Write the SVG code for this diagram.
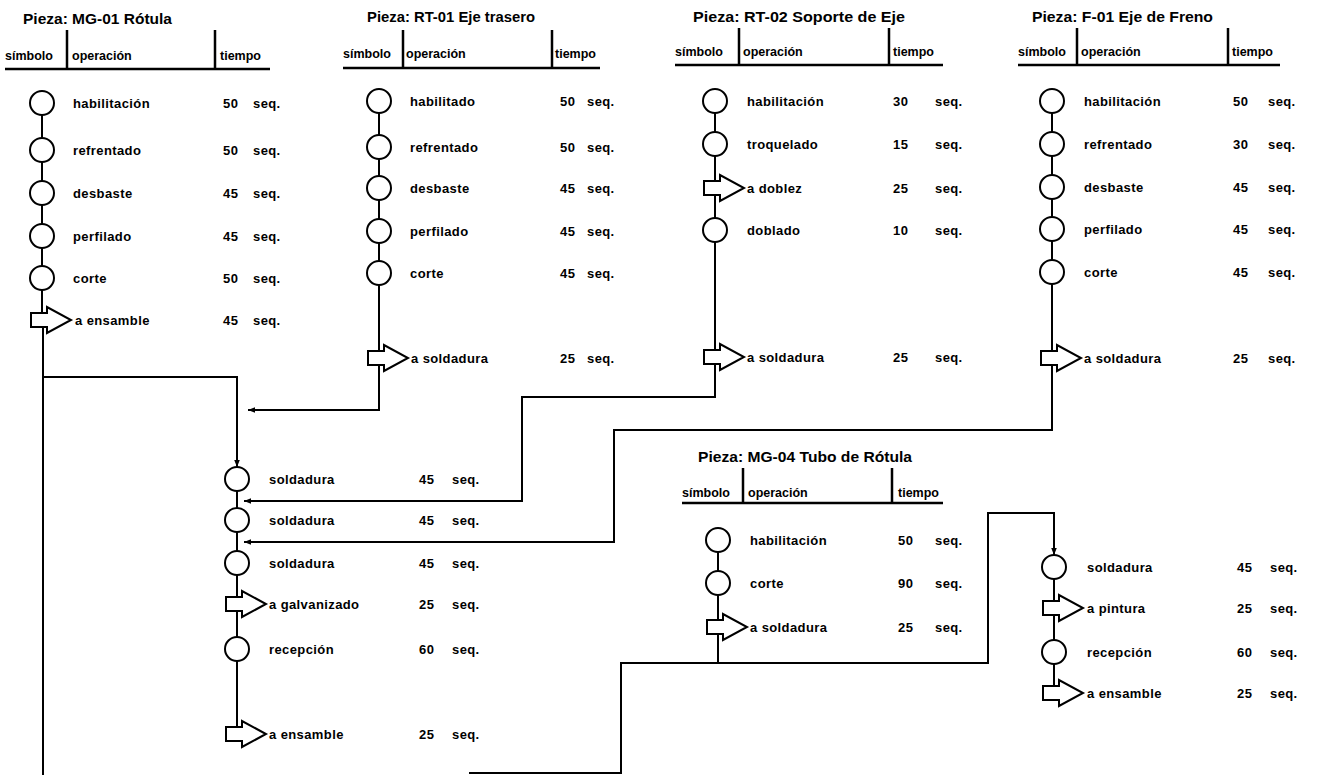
<svg xmlns="http://www.w3.org/2000/svg" width="1318" height="775" viewBox="0 0 1318 775">
<style>
text{font-family:"Liberation Sans",Arial,sans-serif;font-weight:bold;fill:#000}
.r{font-size:13px;letter-spacing:0.4px}
.h{font-size:12.5px}
.ti{font-size:14px}
.op{fill:#fff;stroke:#000;stroke-width:2}
.c{fill:none;stroke:#000;stroke-width:2}
.hl{fill:none;stroke:#000;stroke-width:2.5}
</style>
<defs>
<path id="tr" class="op" d="M-11,-7 H5 V-13 L29,0 L5,13 V7 H-11 Z"/>
<circle id="oc" class="op" r="12"/>
<marker id="ah" markerUnits="userSpaceOnUse" markerWidth="7" markerHeight="7" viewBox="0 0 10 10" refX="10" refY="5" orient="auto">
<path d="M0,1 L10,5 L0,9 Z" fill="#000"/>
</marker>
</defs>
<rect width="1318" height="775" fill="#fff"/>

<g id="connectors">
<path class="c" d="M42,115 V138 M42,162 V181 M42,205 V224 M42,248 V266 M42,290 V313"/>
<path class="c" d="M43,327 V775 M43,377 H237 V467" marker-end="url(#ah)"/>
<path class="c" d="M379,113 V135 M379,159 V176 M379,200 V219 M379,243 V261 M379,285 V351"/>
<path class="c" d="M379,365 V410 H248" marker-end="url(#ah)"/>
<path class="c" d="M715,113 V132 M715,156 V181 M715,195 V218 M715,242 V350"/>
<path class="c" d="M715,364 V397 H522 V501 H244" marker-end="url(#ah)"/>
<path class="c" d="M1052,113 V132 M1052,156 V175 M1052,199 V217 M1052,241 V260 M1052,284 V351"/>
<path class="c" d="M1052,365 V430 H614 V542 H244" marker-end="url(#ah)"/>
<path class="c" d="M718,552 V571 M718,595 V620 M718,634 V663"/>
<path class="c" d="M469,773 H621 V663 H988 V513 H1054 V555" marker-end="url(#ah)"/>
<path class="c" d="M237,491 V508 M237,532 V551 M237,575 V597 M237,611 V637 M237,661 V727"/>
<path class="c" d="M1054,579 V601 M1054,615 V640 M1054,664 V686"/>
</g>

<g id="pieza-mg01">
<text class="ti" x="23" y="24" textLength="149" lengthAdjust="spacingAndGlyphs">Pieza: MG-01 Rótula</text>
<text class="h" x="5" y="60">símbolo</text>
<text class="h" x="72" y="60">operación</text>
<text class="h" x="220" y="60">tiempo</text>
<path class="hl" d="M5,69 H270 M67,30 V69 M215,30 V69"/>
<use href="#oc" x="42" y="103"/><use href="#oc" x="42" y="150"/><use href="#oc" x="42" y="193"/><use href="#oc" x="42" y="236"/><use href="#oc" x="42" y="278"/><use href="#tr" x="42" y="320"/>
<text class="r" x="73" y="107.5">habilitación</text><text class="r" x="223" y="107.5">50</text><text class="r" x="253" y="107.5">seq.</text>
<text class="r" x="73" y="154.5">refrentado</text><text class="r" x="223" y="154.5">50</text><text class="r" x="253" y="154.5">seq.</text>
<text class="r" x="73" y="197.5">desbaste</text><text class="r" x="223" y="197.5">45</text><text class="r" x="253" y="197.5">seq.</text>
<text class="r" x="73" y="240.5">perfilado</text><text class="r" x="223" y="240.5">45</text><text class="r" x="253" y="240.5">seq.</text>
<text class="r" x="73" y="282.5">corte</text><text class="r" x="223" y="282.5">50</text><text class="r" x="253" y="282.5">seq.</text>
<text class="r" x="75" y="324.5">a ensamble</text><text class="r" x="223" y="324.5">45</text><text class="r" x="253" y="324.5">seq.</text>
</g>

<g id="pieza-rt01">
<text class="ti" x="367" y="22" textLength="168" lengthAdjust="spacingAndGlyphs">Pieza: RT-01 Eje trasero</text>
<text class="h" x="343" y="58">símbolo</text>
<text class="h" x="406" y="58">operación</text>
<text class="h" x="555" y="58">tiempo</text>
<path class="hl" d="M343,68 H600 M403,30 V68 M552,30 V68"/>
<use href="#oc" x="379" y="101"/><use href="#oc" x="379" y="147"/><use href="#oc" x="379" y="188"/><use href="#oc" x="379" y="231"/><use href="#oc" x="379" y="273"/><use href="#tr" x="379" y="358"/>
<text class="r" x="410" y="105.5">habilitado</text><text class="r" x="560" y="105.5">50</text><text class="r" x="587" y="105.5">seq.</text>
<text class="r" x="410" y="151.5">refrentado</text><text class="r" x="560" y="151.5">50</text><text class="r" x="587" y="151.5">seq.</text>
<text class="r" x="410" y="192.5">desbaste</text><text class="r" x="560" y="192.5">45</text><text class="r" x="587" y="192.5">seq.</text>
<text class="r" x="410" y="235.5">perfilado</text><text class="r" x="560" y="235.5">45</text><text class="r" x="587" y="235.5">seq.</text>
<text class="r" x="410" y="277.5">corte</text><text class="r" x="560" y="277.5">45</text><text class="r" x="587" y="277.5">seq.</text>
<text class="r" x="411" y="362.5">a soldadura</text><text class="r" x="560" y="362.5">25</text><text class="r" x="587" y="362.5">seq.</text>
</g>

<g id="pieza-rt02">
<text class="ti" x="693" y="22" textLength="212" lengthAdjust="spacingAndGlyphs">Pieza: RT-02 Soporte de Eje</text>
<text class="h" x="675" y="56">símbolo</text>
<text class="h" x="743" y="56">operación</text>
<text class="h" x="893" y="56">tiempo</text>
<path class="hl" d="M675,65 H943 M739,28 V65 M889,28 V65"/>
<use href="#oc" x="715" y="101"/><use href="#oc" x="715" y="144"/><use href="#tr" x="715" y="188"/><use href="#oc" x="715" y="230"/><use href="#tr" x="715" y="357"/>
<text class="r" x="747" y="105.5">habilitación</text><text class="r" x="893" y="105.5">30</text><text class="r" x="935" y="105.5">seq.</text>
<text class="r" x="747" y="148.5">troquelado</text><text class="r" x="893" y="148.5">15</text><text class="r" x="935" y="148.5">seq.</text>
<text class="r" x="747" y="192.5">a doblez</text><text class="r" x="893" y="192.5">25</text><text class="r" x="935" y="192.5">seq.</text>
<text class="r" x="747" y="234.5">doblado</text><text class="r" x="893" y="234.5">10</text><text class="r" x="935" y="234.5">seq.</text>
<text class="r" x="747" y="361.5">a soldadura</text><text class="r" x="893" y="361.5">25</text><text class="r" x="935" y="361.5">seq.</text>
</g>

<g id="pieza-f01">
<text class="ti" x="1032" y="22" textLength="181" lengthAdjust="spacingAndGlyphs">Pieza: F-01 Eje de Freno</text>
<text class="h" x="1018" y="56">símbolo</text>
<text class="h" x="1081" y="56">operación</text>
<text class="h" x="1232" y="56">tiempo</text>
<path class="hl" d="M1018,65 H1280 M1077,28 V65 M1228,28 V65"/>
<use href="#oc" x="1052" y="101"/><use href="#oc" x="1052" y="144"/><use href="#oc" x="1052" y="187"/><use href="#oc" x="1052" y="229"/><use href="#oc" x="1052" y="272"/><use href="#tr" x="1052" y="358"/>
<text class="r" x="1084" y="105.5">habilitación</text><text class="r" x="1233" y="105.5">50</text><text class="r" x="1268" y="105.5">seq.</text>
<text class="r" x="1084" y="148.5">refrentado</text><text class="r" x="1233" y="148.5">30</text><text class="r" x="1268" y="148.5">seq.</text>
<text class="r" x="1084" y="191.5">desbaste</text><text class="r" x="1233" y="191.5">45</text><text class="r" x="1268" y="191.5">seq.</text>
<text class="r" x="1084" y="233.5">perfilado</text><text class="r" x="1233" y="233.5">45</text><text class="r" x="1268" y="233.5">seq.</text>
<text class="r" x="1084" y="276.5">corte</text><text class="r" x="1233" y="276.5">45</text><text class="r" x="1268" y="276.5">seq.</text>
<text class="r" x="1084" y="362.5">a soldadura</text><text class="r" x="1233" y="362.5">25</text><text class="r" x="1268" y="362.5">seq.</text>
</g>

<g id="pieza-mg04">
<text class="ti" x="698" y="462" textLength="214" lengthAdjust="spacingAndGlyphs">Pieza: MG-04 Tubo de Rótula</text>
<text class="h" x="682" y="497">símbolo</text>
<text class="h" x="748" y="497">operación</text>
<text class="h" x="898" y="497">tiempo</text>
<path class="hl" d="M682,503 H943 M743,468 V503 M892,468 V503"/>
<use href="#oc" x="718" y="540"/><use href="#oc" x="718" y="583"/><use href="#tr" x="718" y="627"/>
<text class="r" x="750" y="544.5">habilitación</text><text class="r" x="898" y="544.5">50</text><text class="r" x="935" y="544.5">seq.</text>
<text class="r" x="750" y="587.5">corte</text><text class="r" x="898" y="587.5">90</text><text class="r" x="935" y="587.5">seq.</text>
<text class="r" x="750" y="631.5">a soldadura</text><text class="r" x="898" y="631.5">25</text><text class="r" x="935" y="631.5">seq.</text>
</g>

<g id="ensamble-rotula">
<use href="#oc" x="237" y="479"/><use href="#oc" x="237" y="520"/><use href="#oc" x="237" y="563"/><use href="#tr" x="237" y="604"/><use href="#oc" x="237" y="649"/><use href="#tr" x="237" y="734"/>
<text class="r" x="269" y="483.5">soldadura</text><text class="r" x="419" y="483.5">45</text><text class="r" x="452" y="483.5">seq.</text>
<text class="r" x="269" y="524.5">soldadura</text><text class="r" x="419" y="524.5">45</text><text class="r" x="452" y="524.5">seq.</text>
<text class="r" x="269" y="567.5">soldadura</text><text class="r" x="419" y="567.5">45</text><text class="r" x="452" y="567.5">seq.</text>
<text class="r" x="269" y="608.5">a galvanizado</text><text class="r" x="419" y="608.5">25</text><text class="r" x="452" y="608.5">seq.</text>
<text class="r" x="269" y="653.5">recepción</text><text class="r" x="419" y="653.5">60</text><text class="r" x="452" y="653.5">seq.</text>
<text class="r" x="269" y="738.5">a ensamble</text><text class="r" x="419" y="738.5">25</text><text class="r" x="452" y="738.5">seq.</text>
</g>

<g id="ensamble-tubo">
<use href="#oc" x="1054" y="567"/><use href="#tr" x="1054" y="608"/><use href="#oc" x="1054" y="652"/><use href="#tr" x="1054" y="693"/>
<text class="r" x="1087" y="571.5">soldadura</text><text class="r" x="1237" y="571.5">45</text><text class="r" x="1270" y="571.5">seq.</text>
<text class="r" x="1087" y="612.5">a pintura</text><text class="r" x="1237" y="612.5">25</text><text class="r" x="1270" y="612.5">seq.</text>
<text class="r" x="1087" y="656.5">recepción</text><text class="r" x="1237" y="656.5">60</text><text class="r" x="1270" y="656.5">seq.</text>
<text class="r" x="1087" y="697.5">a ensamble</text><text class="r" x="1237" y="697.5">25</text><text class="r" x="1270" y="697.5">seq.</text>
</g>
</svg>
